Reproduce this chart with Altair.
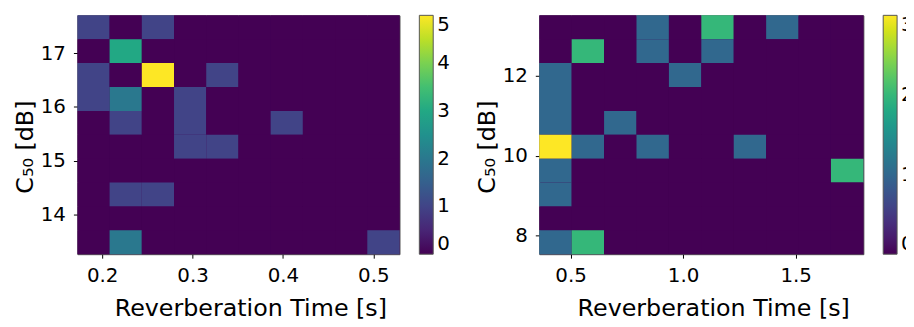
import altair as alt
import pandas as pd
import numpy as np

# ---------------- data ----------------
# Left panel: 2D histogram (rows listed top -> bottom)
left_x_range = [0.1726, 0.529]
left_y_range = [13.255, 17.708]
left_xticks = [0.2, 0.3, 0.4, 0.5]
left_yticks = [14, 15, 16, 17]
left_cmax = 5
left_counts = [
    [1, 0, 1, 0, 0, 0, 0, 0, 0, 0],
    [0, 3, 0, 0, 0, 0, 0, 0, 0, 0],
    [1, 0, 5, 0, 1, 0, 0, 0, 0, 0],
    [1, 2, 0, 1, 0, 0, 0, 0, 0, 0],
    [0, 1, 0, 1, 0, 0, 1, 0, 0, 0],
    [0, 0, 0, 1, 1, 0, 0, 0, 0, 0],
    [0, 0, 0, 0, 0, 0, 0, 0, 0, 0],
    [0, 1, 1, 0, 0, 0, 0, 0, 0, 0],
    [0, 0, 0, 0, 0, 0, 0, 0, 0, 0],
    [0, 2, 0, 0, 0, 0, 0, 0, 0, 1],
]

# Right panel
right_x_range = [0.361, 1.801]
right_y_range = [7.54, 13.5]
right_xticks = [0.5, 1.0, 1.5]
right_yticks = [8, 10, 12]
right_cmax = 3
right_counts = [
    [0, 0, 0, 1, 0, 2, 0, 1, 0, 0],
    [0, 2, 0, 1, 0, 1, 0, 0, 0, 0],
    [1, 0, 0, 0, 1, 0, 0, 0, 0, 0],
    [1, 0, 0, 0, 0, 0, 0, 0, 0, 0],
    [1, 0, 1, 0, 0, 0, 0, 0, 0, 0],
    [3, 1, 0, 1, 0, 0, 1, 0, 0, 0],
    [1, 0, 0, 0, 0, 0, 0, 0, 0, 2],
    [1, 0, 0, 0, 0, 0, 0, 0, 0, 0],
    [0, 0, 0, 0, 0, 0, 0, 0, 0, 0],
    [1, 2, 0, 0, 0, 0, 0, 0, 0, 0],
]

x_title = "Reverberation Time [s]"
y_title = "C₅₀ [dB]"

FONT = "DejaVu Sans"
PLOT_H = 241


def to_frame(counts, xr, yr):
    ny = len(counts)
    nx = len(counts[0])
    xe = np.linspace(xr[0], xr[1], nx + 1)
    ye = np.linspace(yr[1], yr[0], ny + 1)
    rows = []
    for i, row in enumerate(counts):
        for j, c in enumerate(row):
            rows.append(dict(x0=xe[j], x1=xe[j + 1], y0=ye[i + 1], y1=ye[i], count=c))
    return pd.DataFrame(rows)


def panel(counts, xr, yr, xticks, yticks, cmax, width, legend_offset):
    df = to_frame(counts, xr, yr)
    return alt.Chart(df).mark_rect().encode(
        x=alt.X("x0:Q", scale=alt.Scale(domain=xr, nice=False, zero=False),
                axis=alt.Axis(values=xticks, format=".1f", title=x_title,
                              titleX=width / 2 + 12)),
        x2="x1:Q",
        y=alt.Y("y0:Q", scale=alt.Scale(domain=yr, nice=False, zero=False),
                axis=alt.Axis(values=yticks, format="d", title=y_title,
                              titleY=PLOT_H / 2 + 12)),
        y2="y1:Q",
        color=alt.Color("count:Q",
                        scale=alt.Scale(scheme="viridis", domain=[0, cmax]),
                        legend=alt.Legend(type="gradient", title=None,
                                          values=list(range(cmax + 1)), format="d",
                                          direction="vertical", orient="right",
                                          gradientLength=PLOT_H, gradientThickness=14,
                                          labelBaseline="middle", offset=legend_offset,
                                          padding=0, labelOffset=4,
                                          gradientStrokeColor="#555",
                                          gradientStrokeWidth=1)),
    ).properties(width=width, height=PLOT_H)


left = panel(left_counts, left_x_range, left_y_range, left_xticks, left_yticks,
             left_cmax, 325, 20)
right = panel(right_counts, right_x_range, right_y_range, right_xticks, right_yticks,
              right_cmax, 327, 20)

chart = alt.hconcat(left, right, spacing=24).resolve_scale(
    color="independent"
).properties(
    padding={"left": 5, "top": 5, "right": -9, "bottom": -2}
).configure_view(
    stroke="#555", strokeWidth=1, fill="#440154"
).configure_axis(
    domain=False, grid=False, tickColor="#000", tickSize=4, tickWidth=1,
    labelFont=FONT, labelFontSize=20, labelColor="#000",
    titleFont=FONT, titleFontSize=24, titleColor="#000", titleFontWeight="normal",
).configure_axisX(
    labelPadding=8, titlePadding=11,
).configure_axisY(
    labelPadding=8, titlePadding=3,
).configure_legend(
    labelFont=FONT, labelFontSize=20, labelColor="#000",
)

chart.save("out.html", embed_options={"renderer": "svg", "actions": False})
